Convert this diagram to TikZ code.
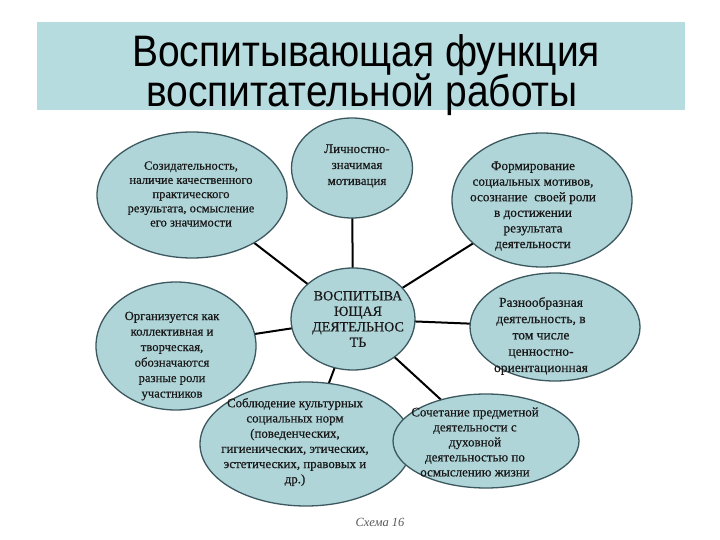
\documentclass[tikz,border=0pt]{standalone}
\usepackage{fontspec}
\usepackage{graphicx}
\setmainfont{Liberation Serif}
\newfontfamily\titlefont{Liberation Sans}
\newfontface\bodyfont{Liberation Serif}[FakeBold=0.6]
\usetikzlibrary{shapes.geometric,backgrounds}
\definecolor{bandc}{RGB}{183,220,224}
\definecolor{ellc}{RGB}{176,213,217}
\definecolor{edgec}{RGB}{60,88,95}
\definecolor{txtc}{RGB}{25,25,25}
\tikzset{
  bub/.style={ellipse, draw=edgec, line width=1.3pt, fill=ellc, inner sep=0pt},
  btxt/.style={text=txtc, align=center, inner sep=0pt},
  ttl/.style={font=\titlefont\fontsize{39}{41}\selectfont, text=black, anchor=base, inner sep=0pt},
  conn/.style={line width=2pt, black},
}
\newcommand{\fsz}[2]{\bodyfont\fontsize{#1}{#2}\selectfont}
\begin{document}
\begin{tikzpicture}[x=1pt,y=-1pt]
\useasboundingbox (0,0) rectangle (720,540);
\begin{scope}[on background layer]
\fill[white] (0,0) rectangle (720,540);
\end{scope}
\fill[bandc] (37,22) rectangle (685,110);
\node[ttl] (title1) at (366,67) {\scalebox{1}[1.13]{Воспитывающая функция}};
\node[ttl] (title2) at (362,107) {\scalebox{1}[1.13]{воспитательной работы}};

\node[bub, minimum width=190, minimum height=126] (tl) at (192,195) {};
\node[bub, minimum width=121, minimum height=100] (tm) at (352,168) {};
\node[bub, minimum width=180, minimum height=134] (tr) at (542,200) {};
\node[bub, minimum width=124, minimum height=102] (c) at (353,319) {};
\node[bub, minimum width=170, minimum height=108] (mr) at (555,327) {};
\node[bub, minimum width=160, minimum height=128] (ml) at (176,346) {};
\node[bub, minimum width=212, minimum height=124] (bc) at (306,444) {};
\node[bub, minimum width=186, minimum height=94] (br) at (486,441) {};

\node[btxt, font=\fsz{12.5}{14.2}] (ttl) at (191,194)
  {Созидательность,\\наличие качественного\\практического\\результата, осмысление\\его значимости};
\node[btxt, font=\fsz{13}{16}] (ttm) at (357,166)
  {Личностно-\\значимая\\мотивация};
\node[btxt, font=\fsz{13.2}{15.6}] (ttr) at (533,206)
  {Формирование\\социальных мотивов,\\осознание \ своей роли\\в достижении\\результата\\деятельности};
\node[btxt, font=\fsz{14}{15.5}] (tc) at (358,319)
  {ВОСПИТЫВА\\ЮЩАЯ\\ДЕЯТЕЛЬНОС\\ТЬ};
\node[btxt, font=\fsz{13.5}{16.3}] (tmr) at (541,336)
  {Разнообразная\\деятельность, в\\том числе\\ценностно-\\ориентационная};
\node[btxt, font=\fsz{12.7}{15.5}] (tml) at (172,356)
  {Организуется как\\коллективная и\\творческая,\\обозначаются\\разные роли\\участников};
\node[btxt, font=\fsz{12.9}{15.2}] (tbc) at (295,442)
  {Соблюдение культурных\\социальных норм\\(поведенческих,\\гигиенических, этических,\\эстетических, правовых и\\др.)};
\node[btxt, font=\fsz{13}{15}] (tbr) at (475,442)
  {Сочетание предметной\\деятельности с\\духовной\\деятельностью по\\осмыслению жизни};

\node[text=black!65, font=\itshape\fontsize{12.5}{14}\selectfont] (cap) at (380,522) {Схема 16};

\begin{scope}[on background layer]
\draw[conn] (c.center) -- (tl.center);
\draw[conn] (c.center) -- (tm.center);
\draw[conn] (c.center) -- (tr.center);
\draw[conn] (c.center) -- (ml.center);
\draw[conn] (c.center) -- (mr.center);
\draw[conn] (c.center) -- (bc.center);
\draw[conn] (c.center) -- (br.center);
\end{scope}
\end{tikzpicture}
\end{document}
